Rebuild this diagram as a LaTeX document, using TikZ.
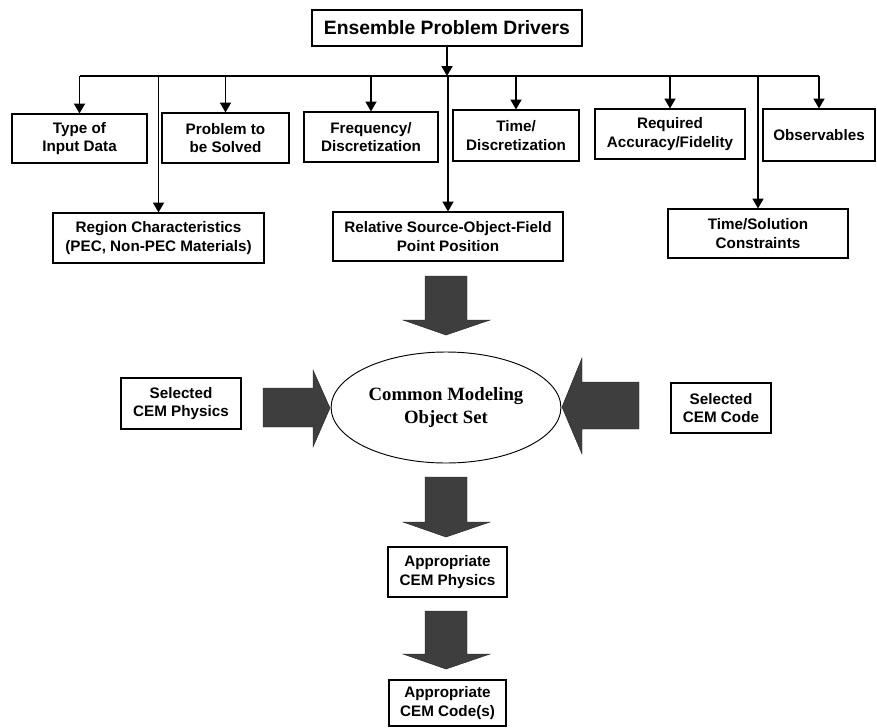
\documentclass[tikz,border=0pt]{standalone}
\usepackage{fontspec}
\setmainfont{Liberation Sans}
\newfontfamily\ellfont{Liberation Serif}
\usetikzlibrary{arrows.meta,shapes.geometric}
\definecolor{arrowgray}{RGB}{62,62,62}

\begin{document}
\begin{tikzpicture}[x=0.03cm, y=-0.03cm,
  box/.style={draw, line width=0.9pt, align=center, inner sep=0pt,
    font=\bfseries\fontsize{13}{15.5}\selectfont},
  conn/.style={line width=1.2pt, -{Triangle[width=9.5pt,length=8.5pt]}},
  bigarrow/.style={fill=arrowgray, draw=black!85, line width=0.4pt}]
  \useasboundingbox (0,0) rectangle (877,727);

  % top of the tree
  \node[box, font=\bfseries\fontsize{16.5}{19}\selectfont,
    minimum width=8.1cm, minimum height=1.08cm] (drivers) at (447,28) {Ensemble Problem Drivers};

  % first row of drivers
  \node[box, minimum width=4.05cm, minimum height=1.47cm] (type) at (79.5,138.5) {Type of\\Input Data};
  \node[box, minimum width=3.81cm, minimum height=1.5cm] (problem) at (225.5,138) {Problem to\\be Solved};
  \node[box, minimum width=4.02cm, minimum height=1.5cm] (freq) at (371,137) {Frequency/\\Discretization};
  \node[box, minimum width=3.78cm, minimum height=1.53cm] (timedisc) at (516,135.5) {Time/\\Discretization};
  \node[box, minimum width=4.5cm, minimum height=1.5cm] (accuracy) at (670,134) {Required\\Accuracy/Fidelity};
  \node[box, minimum width=3.36cm, minimum height=1.56cm] (observ) at (819,135) {Observables};

  % second row of drivers
  \node[box, minimum width=6.33cm, minimum height=1.5cm] (region) at (158.5,238) {Region Characteristics\\(PEC, Non-PEC Materials)};
  \node[box, minimum width=6.9cm, minimum height=1.47cm] (relative) at (448,236.5) {Relative Source-Object-Field\\Point Position};
  \node[box, minimum width=5.4cm, minimum height=1.47cm] (timesol) at (758,233.5) {Time/Solution\\Constraints};

  % modeling object set and its inputs
  \node[draw, ellipse, line width=0.8pt, minimum width=6.06cm, minimum height=3.33cm, align=center,
    font=\ellfont\bfseries\fontsize{16}{19}\selectfont] (cmos) at (446,407.5) {Common Modeling\\Object Set};
  \node[box, minimum width=3.6cm, minimum height=1.53cm] (selphys) at (181,403.5) {Selected\\CEM Physics};
  \node[box, minimum width=3.0cm, minimum height=1.5cm] (selcode) at (721,408) {Selected\\CEM Code};

  % outputs
  \node[box, minimum width=3.57cm, minimum height=1.5cm] (appphys) at (447.5,572) {Appropriate\\CEM Physics};
  \node[box, minimum width=3.51cm, minimum height=1.38cm] (appcode) at (447.5,703) {Appropriate\\CEM Code(s)};

  % tree connectors
  \coordinate (bus) at (447,76);
  \draw[line width=1.2pt] (type.north |- bus) -- (observ.north |- bus);
  \draw[conn] (drivers) -- (drivers.south |- bus);
  \foreach \n in {type,problem,freq,timedisc,accuracy,observ,region,relative,timesol}{
    \draw[conn] (\n.north |- bus) -- (\n.north);
  }

  % block arrows
  \foreach \t/\b in {276/320, 477/522, 611/654}{
    \filldraw[bigarrow] (425,\t) -- (467,\t) -- (467,\b) -- (490,\b) -- (446,\b+15)
      -- (403,\b) -- (425,\b) -- cycle;
  }
  \filldraw[bigarrow] (263,388) -- (313,388) -- (313,370) -- (330,408) -- (313,447)
    -- (313,427) -- (263,427) -- cycle;
  \filldraw[bigarrow] (639,382) -- (582,382) -- (582,358) -- (562,407) -- (582,454)
    -- (582,429) -- (639,429) -- cycle;
\end{tikzpicture}
\end{document}
